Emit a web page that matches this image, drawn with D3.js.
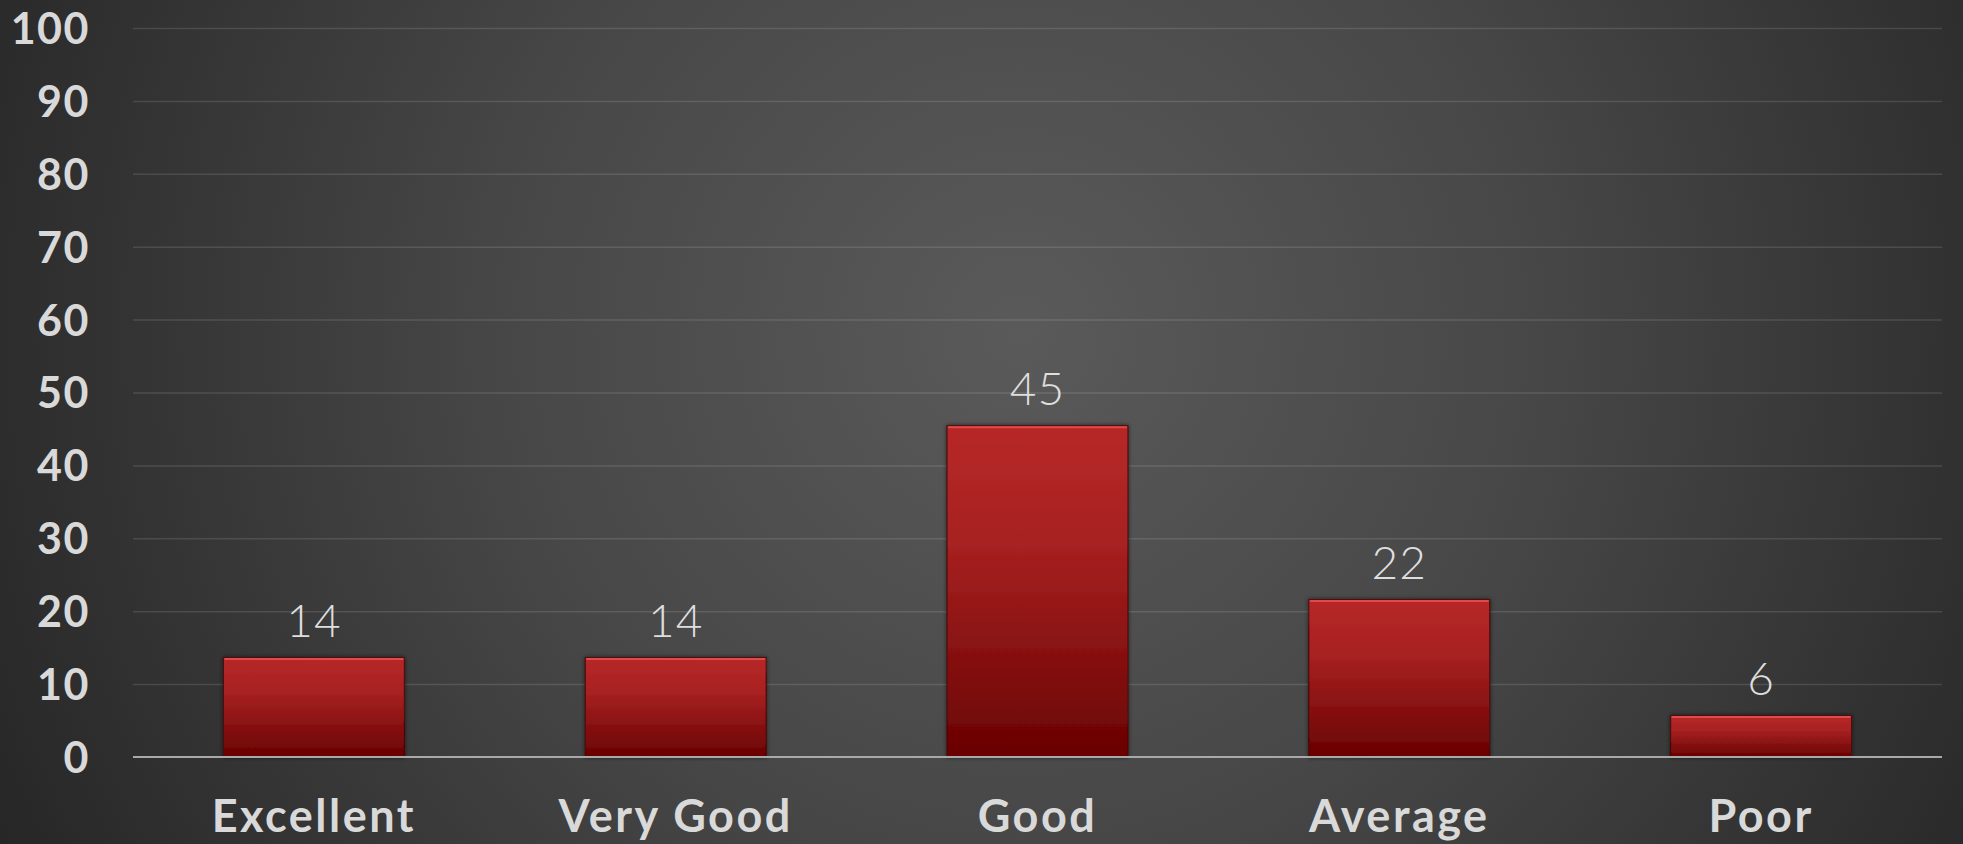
<!DOCTYPE html>
<html>
<head>
<meta charset="utf-8">
<script src="https://cdn.jsdelivr.net/npm/d3@7"></script>
<style>
  html, body { margin: 0; padding: 0; background: #2c2c2c; overflow: hidden; }
  svg { display: block; }
</style>
</head>
<body>
<svg id="chart" width="1963" height="844"></svg>
<script>
const categories = ["Excellent", "Very Good", "Good", "Average", "Poor"];
const values = [13.64, 13.64, 45.45, 21.59, 5.68];
const yTicks = [0, 10, 20, 30, 40, 50, 60, 70, 80, 90, 100];

const W = 1963, H = 844;
const margin = { top: 28, right: 21, bottom: 87, left: 133 };
const iw = W - margin.left - margin.right;
const ih = H - margin.top - margin.bottom;

const svg = d3.select("#chart");
const defs = svg.append("defs");

const bg = defs.append("radialGradient").attr("id", "bg")
  .attr("gradientUnits", "userSpaceOnUse")
  .attr("cx", 1020).attr("cy", 330).attr("r", 1150);
bg.append("stop").attr("offset", "0%").attr("stop-color", "#5a5a5a");
bg.append("stop").attr("offset", "45%").attr("stop-color", "#474747");
bg.append("stop").attr("offset", "100%").attr("stop-color", "#262626");

const barGrad = defs.append("linearGradient").attr("id", "barGrad")
  .attr("x1", 0).attr("y1", 0).attr("x2", 0).attr("y2", 1);
barGrad.append("stop").attr("offset", "0%").attr("stop-color", "#b72828");
barGrad.append("stop").attr("offset", "35%").attr("stop-color", "#a82121");
barGrad.append("stop").attr("offset", "100%").attr("stop-color", "#690202");

const shadow = defs.append("filter").attr("id", "shadow")
  .attr("x", "-10%").attr("y", "-10%").attr("width", "120%").attr("height", "120%");
shadow.append("feDropShadow").attr("dx", 0).attr("dy", 0).attr("stdDeviation", 2)
  .attr("flood-color", "#000").attr("flood-opacity", 0.6);

svg.append("rect").attr("width", W).attr("height", H).attr("fill", "url(#bg)");

const g = svg.append("g").attr("transform", `translate(${margin.left},${margin.top})`);

const x = d3.scaleBand().domain(categories).range([0, iw]).paddingInner(0.5).paddingOuter(0.25);
const y = d3.scaleLinear().domain([0, 100]).range([ih, 0]);

// gridlines
const grid = g.append("g").call(d3.axisLeft(y).tickValues(yTicks).tickSize(-iw).tickFormat(""));
grid.select(".domain").remove();
grid.selectAll(".tick line").attr("stroke", "rgba(255,255,255,0.12)").attr("stroke-width", 1.5);
grid.selectAll(".tick").filter(d => d === 0).remove();

// y labels
const yAxis = g.append("g").call(d3.axisLeft(y).tickValues(yTicks).tickSize(0).tickPadding(43));
yAxis.select(".domain").remove();
yAxis.selectAll("text")
  .attr("fill", "#d9d9d9")
  .style("font-family", "Lato, 'Open Sans', sans-serif")
  .style("font-weight", 700)
  .style("font-size", "43px")
  .style("letter-spacing", "1.5px")
  .attr("dy", "0.36em");

// bars
const bars = g.append("g").selectAll("g.bar").data(categories).join("g").attr("class", "bar");
bars.append("rect")
  .attr("x", d => x(d))
  .attr("y", (d, i) => y(values[i]))
  .attr("width", x.bandwidth())
  .attr("height", (d, i) => ih - y(values[i]))
  .attr("fill", "url(#barGrad)")
  .attr("stroke", "#4a0808")
  .attr("stroke-width", 1)
  .attr("filter", "url(#shadow)");
bars.append("line")
  .attr("x1", d => x(d) + 1)
  .attr("x2", d => x(d) + x.bandwidth() - 1)
  .attr("y1", (d, i) => y(values[i]) + 1.5)
  .attr("y2", (d, i) => y(values[i]) + 1.5)
  .attr("stroke", "#e04a4a")
  .attr("stroke-width", 2);

// value labels
const fmt = d3.format(".0f");
bars.append("text")
  .attr("x", d => x(d) + x.bandwidth() / 2)
  .attr("y", (d, i) => y(values[i]) - 21)
  .attr("text-anchor", "middle")
  .attr("fill", "#dedede")
  .style("font-family", "Lato, 'Open Sans', sans-serif")
  .style("font-weight", 300)
  .style("font-size", "46px")
  .style("letter-spacing", "1px")
  .text((d, i) => fmt(values[i]));

// baseline
g.append("line").attr("x1", 0).attr("x2", iw).attr("y1", ih).attr("y2", ih)
  .attr("stroke", "#a9a9a9").attr("stroke-width", 2);

// x labels
const xAxis = g.append("g").attr("transform", `translate(0,${ih})`)
  .call(d3.axisBottom(x).tickSize(0).tickPadding(0));
xAxis.select(".domain").remove();
xAxis.selectAll("text")
  .attr("y", 75)
  .attr("dy", 0)
  .attr("fill", "#d9d9d9")
  .style("font-family", "Lato, 'Open Sans', sans-serif")
  .style("font-weight", 700)
  .style("font-size", "45px")
  .style("letter-spacing", "2.5px");
</script>
</body>
</html>
